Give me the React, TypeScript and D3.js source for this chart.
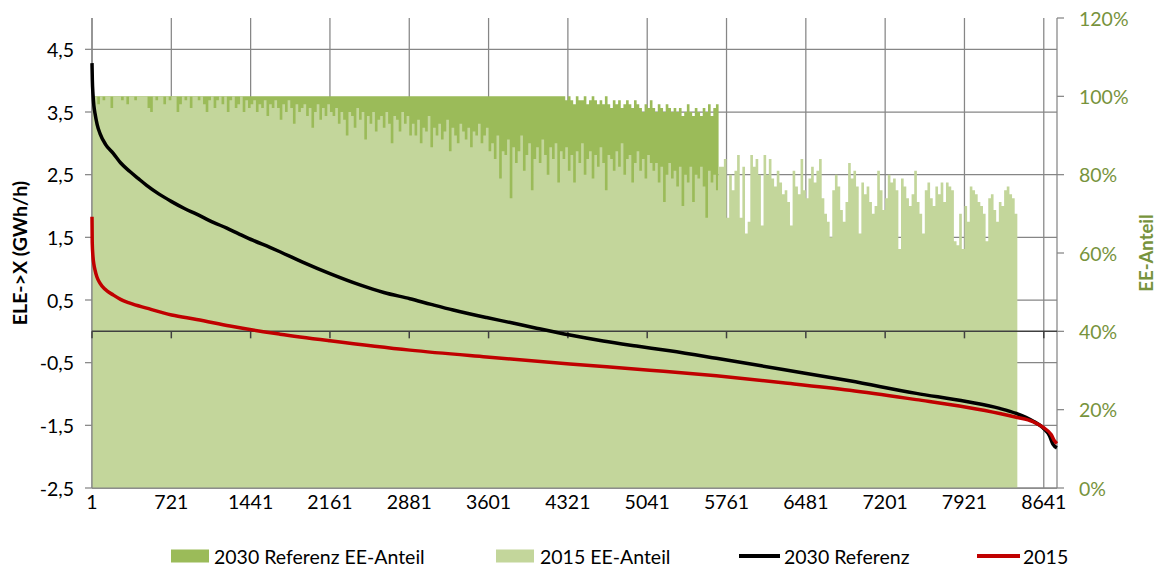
import React from 'react';
import * as d3 from 'd3';

const HOUR_TICKS = [1, 721, 1441, 2161, 2881, 3601, 4321, 5041, 5761, 6481, 7201, 7921, 8641];
const LEFT_TICKS = [-2.5, -1.5, -0.5, 0.5, 1.5, 2.5, 3.5, 4.5];
const RIGHT_TICKS = [0, 0.2, 0.4, 0.6, 0.8, 1.0, 1.2];
const BIN_HOURS = 24;

// 2015 EE-Anteil (%) per 24-hour block
const EE_2015 = [
  100,100,98,100,99,100,100,97,100,100,
  100,99,100,98,100,100,99,100,100,100,
  100,97,96,100,99,100,100,98,100,99,
  100,100,96,98,100,99,100,97,100,100,
  99,100,98,96,99,100,97,99,100,98,
  100,96,99,100,97,98,100,96,99,97,
  98,99,96,98,97,99,95,98,97,99,
  97,94,98,96,99,97,93,98,96,97,
  98,95,97,92,96,98,94,97,95,98,96,
  95,97,93,96,94,90,96,95,92,97,
  94,96,89,95,93,96,91,94,95,92,
  96,93,88,95,94,91,96,93,95,90,
  93,90,94,88,92,91,95,87,92,90,
  93,89,91,94,86,92,90,88,93,91,
  89,92,87,91,90,93,88,90,92,86,
  88,84,90,79,86,85,89,74,87,83,
  86,90,81,85,88,76,84,87,83,89,
  85,80,87,84,88,78,86,
  84,87,81,85,78,86,83,88,80,84,
  86,79,85,82,87,83,76,85,84,81,
  86,82,88,80,84,85,78,83,86,81,
  84,79,85,83,
  81,83,78,82,73,80,83,79,81,77,
  82,72,80,78,82,73,80,79,82,77,
  69,81,78,80,76,82,
  82,84,69,80,76,81,85,69,82,65,
  68,85,82,84,80,67,85,80,84,79,
  77,81,78,75,76,73,67,81,77,75,
  84,76,74,79,82,78,81,84,74,70,
  68,64,76,80,77,71,68,73,83,79,
  81,77,65,78,75,77,73,70,72,81,
  76,71,74,80,78,79,76,61,79,77,
  74,72,75,81,73,70,65,76,78,74,
  72,77,75,78,73,78,77,76,63,62,
  70,61,72,68,77,76,75,73,72,70,
  63,74,75,71,68,73,72,76,77,75,
  74,70,
];

// 2030 Referenz EE-Anteil (%) per 24-hour block
const EE_2030 = [
  100,100,100,100,100,100,100,100,100,100,
  100,100,100,100,100,100,100,100,100,100,
  100,100,100,100,100,100,100,100,100,100,
  100,100,100,100,100,100,100,100,100,100,
  100,100,100,100,100,100,100,100,100,100,
  100,100,100,100,100,100,100,100,100,100,
  100,100,100,100,100,100,100,100,100,100,
  100,100,100,100,100,100,100,100,100,100,
  100,100,100,100,100,100,100,100,100,100,
  100,100,100,100,100,100,100,100,100,100,
  100,100,100,100,100,100,100,100,100,100,
  100,100,100,100,100,100,100,100,100,100,
  100,100,100,100,100,100,100,100,100,100,
  100,100,100,100,100,100,100,100,100,100,
  100,100,100,100,100,100,100,100,100,100,
  100,100,100,100,100,100,100,100,100,100,
  100,100,100,100,100,100,100,100,100,100,
  100,100,100,100,100,100,100,100,
  100,99,100,99,98,100,99,99,100,98,99,100,99,
  98,99,98,100,98,97,99,98,99,97,98,99,98,97,99,
  98,97,96,98,97,99,97,96,98,97,96,98,97,96,97,
  96,97,95,96,98,96,95,97,96,95,97,96,98,95,97,98,
];

// ELE->X (GWh/h) duration curves: [hour, value]
const LINE_2030: [number, number][] = [
  [1,4.28],[4,4.02],[10,3.78],[18,3.6],[28,3.48],[48,3.3],[73,3.16],[125,2.98],[194,2.84],
  [260,2.69],[345,2.55],[420,2.44],[497,2.33],[610,2.19],[724,2.07],[840,1.96],[951,1.87],
  [1102,1.74],[1220,1.65],[1329,1.56],[1465,1.45],[1616,1.34],[1707,1.27],[1918,1.1],
  [2161,0.92],[2433,0.74],[2650,0.62],[2887,0.52],[3080,0.43],[3280,0.34],[3583,0.22],
  [3800,0.14],[4036,0.05],[4339,-0.06],[4641,-0.155],[4944,-0.235],[5246,-0.31],[5669,-0.43],
  [6274,-0.61],[6879,-0.79],[7484,-0.99],[7938,-1.12],[8240,-1.23],[8391,-1.31],[8542,-1.43],
  [8633,-1.54],[8694,-1.67],[8724,-1.8],[8760,-1.86],
];
const LINE_2015: [number, number][] = [
  [1,1.83],[3,1.42],[10,1.19],[18,1.07],[28,0.98],[45,0.87],[73,0.77],[120,0.67],[194,0.58],
  [260,0.51],[345,0.45],[497,0.37],[724,0.26],[951,0.19],[1254,0.085],[1556,-0.006],[1707,-0.045],
  [2161,-0.15],[2887,-0.3],[3583,-0.41],[4339,-0.52],[5064,-0.62],[5669,-0.71],[6274,-0.82],
  [6879,-0.94],[7484,-1.09],[7938,-1.21],[8240,-1.31],[8391,-1.37],[8542,-1.44],[8633,-1.53],
  [8709,-1.65],[8739,-1.75],[8760,-1.79],
];

const LEGEND_LABELS = ['2030 Referenz EE-Anteil', '2015 EE-Anteil', '2030 Referenz', '2015'];

const C_DARK = '#9BBB59';
const C_LIGHT = '#C3D69B';
const C_GRID = '#868686';
const C_RIGHT = '#77933C';
const FONT = "Lato, 'Noto Sans', sans-serif";
const FS = 19.5;

const locale = d3.formatLocale({ decimal: ',', thousands: '.', grouping: [3], currency: ['', '€'], minus: '-' });
const fmtL = locale.format('.1f');

export default function App() {
  const W = 1160, H = 569;
  const L = 92, R = 1057, T = 18, B = 488;
  const x = d3.scaleLinear().domain([1, 8761]).range([L, R]);
  const yL = d3.scaleLinear().domain([-2.5, 5]).range([B, T]);
  const yR = d3.scaleLinear().domain([0, 1.2]).range([B, T]);

  const toSteps = (vals: number[]) => {
    const pts = vals.map((v, i) => ({ h: 1 + i * BIN_HOURS, v }));
    pts.push({ h: 1 + vals.length * BIN_HOURS, v: vals[vals.length - 1] });
    return pts;
  };
  const area = d3.area<{ h: number; v: number }>()
    .x(d => x(d.h))
    .y0(yR(0))
    .y1(d => yR(d.v / 100))
    .curve(d3.curveStepAfter);
  const line = d3.line<[number, number]>()
    .x(d => x(d[0]))
    .y(d => yL(d[1]))
    .curve(d3.curveMonotoneX);

  const y0 = yL(0);
  const legendY = 556;

  return (
    <svg width={W} height={H} style={{ position: 'absolute', left: 0, top: 0, background: '#fff' }}
      fontFamily={FONT} fontSize={FS}>
      {/* gridlines */}
      {HOUR_TICKS.map(h => (
        <line key={'vg' + h} x1={x(h)} x2={x(h)} y1={T} y2={B} stroke={C_GRID} strokeWidth={1.25} />
      ))}
      {LEFT_TICKS.map(t => (
        <line key={'hg' + t} x1={L} x2={R} y1={yL(t)} y2={yL(t)} stroke={C_GRID} strokeWidth={1.25} />
      ))}
      {/* bars */}
      <path d={area(toSteps(EE_2030)) || ''} fill={C_DARK} />
      <path d={area(toSteps(EE_2015)) || ''} fill={C_LIGHT} />
      {/* bottom & side axes */}
      <line x1={L} x2={R} y1={B} y2={B} stroke={C_GRID} strokeWidth={1.25} />
      <line x1={L} x2={L} y1={T} y2={B} stroke={C_GRID} strokeWidth={1.25} />
      <line x1={R} x2={R} y1={T} y2={B} stroke={C_GRID} strokeWidth={1.25} />
      {LEFT_TICKS.map(t => (
        <g key={'lt' + t}>
          <line x1={L - 7} x2={L} y1={yL(t)} y2={yL(t)} stroke={C_GRID} strokeWidth={1.25} />
          <text x={L - 18} y={yL(t)} textAnchor="end" dominantBaseline="central" fill="#000">{fmtL(t)}</text>
        </g>
      ))}
      {RIGHT_TICKS.map(t => (
        <g key={'rt' + t}>
          <line x1={R} x2={R + 7} y1={yR(t)} y2={yR(t)} stroke={C_GRID} strokeWidth={1.25} />
          <text x={R + 22} y={yR(t)} textAnchor="start" dominantBaseline="central" fill={C_RIGHT}>{Math.round(t * 100) + '%'}</text>
        </g>
      ))}
      {/* zero axis */}
      <line x1={L} x2={R} y1={y0} y2={y0} stroke="#404040" strokeWidth={1.5} />
      {HOUR_TICKS.map(h => (
        <line key={'xt' + h} x1={x(h)} x2={x(h)} y1={y0} y2={y0 + 7} stroke="#404040" strokeWidth={1.5} />
      ))}
      {HOUR_TICKS.map(h => (
        <text key={'xl' + h} x={x(h)} y={501} textAnchor="middle" dominantBaseline="central" fill="#000">{h}</text>
      ))}
      {/* lines */}
      <path d={line(LINE_2030) || ''} fill="none" stroke="#000" strokeWidth={3.5} strokeLinejoin="round" />
      <path d={line(LINE_2015) || ''} fill="none" stroke="#C00000" strokeWidth={3.5} strokeLinejoin="round" />
      {/* axis titles */}
      <text transform={`translate(19,${(T + B) / 2}) rotate(-90)`} textAnchor="middle" dominantBaseline="central"
        fontWeight="bold" fill="#000">ELE-&gt;X (GWh/h)</text>
      <text transform={`translate(1146,${(T + B) / 2}) rotate(-90)`} textAnchor="middle" dominantBaseline="central"
        fontWeight="bold" fill={C_RIGHT} fontSize={18.5}>EE-Anteil</text>
      {/* legend */}
      <rect x={171} y={legendY - 6.5} width={38} height={13} fill={C_DARK} />
      <text x={214} y={legendY} dominantBaseline="central">{LEGEND_LABELS[0]}</text>
      <rect x={496} y={legendY - 6.5} width={38} height={13} fill={C_LIGHT} />
      <text x={540} y={legendY} dominantBaseline="central">{LEGEND_LABELS[1]}</text>
      <line x1={739} x2={780} y1={legendY} y2={legendY} stroke="#000" strokeWidth={4} />
      <text x={784} y={legendY} dominantBaseline="central">{LEGEND_LABELS[2]}</text>
      <line x1={977} x2={1020} y1={legendY} y2={legendY} stroke="#C00000" strokeWidth={4} />
      <text x={1023} y={legendY} dominantBaseline="central">{LEGEND_LABELS[3]}</text>
    </svg>
  );
}
